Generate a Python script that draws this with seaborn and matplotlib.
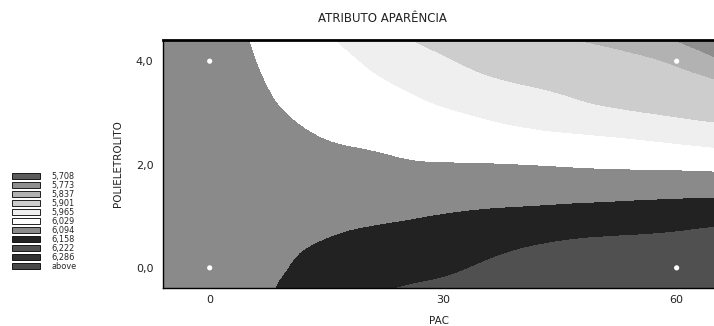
import numpy as np
import pandas as pd
import matplotlib
matplotlib.use("Agg")
import matplotlib.pyplot as plt
import matplotlib.tri as mtri
from matplotlib.patches import Patch
import seaborn as sns

# response surface (rows follow POLIELETROLITO, columns follow PAC)
pac = [-6, 0, 5, 10, 15, 20, 25, 30, 40, 50, 60, 65]
polieletrolito = [-0.4, 0.0, 0.5, 1.0, 1.5, 2.0, 2.5, 3.0, 3.5, 4.0, 4.4]
aparencia = [
    [6.083, 6.083, 6.085, 6.102, 6.135, 6.148, 6.160, 6.165, 6.185, 6.195, 6.200, 6.210],
    [6.081, 6.080, 6.079, 6.093, 6.117, 6.130, 6.141, 6.150, 6.175, 6.185, 6.192, 6.200],
    [6.079, 6.076, 6.073, 6.083, 6.096, 6.107, 6.115, 6.123, 6.149, 6.165, 6.172, 6.180],
    [6.076, 6.072, 6.067, 6.072, 6.079, 6.084, 6.089, 6.096, 6.109, 6.119, 6.130, 6.136],
    [6.074, 6.068, 6.061, 6.061, 6.062, 6.063, 6.062, 6.063, 6.068, 6.071, 6.074, 6.075],
    [6.071, 6.064, 6.055, 6.050, 6.044, 6.041, 6.034, 6.031, 6.028, 6.020, 6.014, 6.009],
    [6.069, 6.060, 6.049, 6.039, 6.028, 6.020, 6.010, 6.001, 5.983, 5.970, 5.950, 5.938],
    [6.066, 6.056, 6.043, 6.028, 6.013, 6.000, 5.986, 5.971, 5.943, 5.913, 5.892, 5.883],
    [6.063, 6.052, 6.038, 6.018, 5.998, 5.980, 5.961, 5.939, 5.904, 5.880, 5.862, 5.850],
    [6.060, 6.048, 6.033, 6.008, 5.984, 5.960, 5.931, 5.907, 5.866, 5.854, 5.825, 5.782],
    [6.058, 6.045, 6.029, 6.001, 5.972, 5.940, 5.906, 5.882, 5.845, 5.832, 5.768, 5.715],
]

# contour levels and legend
levels = [5.5, 5.708, 5.773, 5.837, 5.901, 5.965, 6.029, 6.094, 6.158, 6.222, 6.286, 6.5]
legend_labels = ["5,708", "5,773", "5,837", "5,901", "5,965", "6,029",
                 "6,094", "6,158", "6,222", "6,286", "above"]

# experimental design points (white dots)
design_pac = [0, 0, 60, 60]
design_pol = [0, 4, 0, 4]

x_ticks = [0, 30, 60]
x_ticklabels = ["0", "30", "60"]
y_ticks = [0, 2, 4]
y_ticklabels = ["0,0", "2,0", "4,0"]
x_grid = [6, 18, 30, 42, 54]
y_grid = [0.4, 1.2, 2.0, 2.8, 3.6]

band_colors = ["#5a5a5a", "#8e8e8e", "#b2b2b2", "#cdcdcd", "#efefef", "#ffffff",
               "#8a8a8a", "#222222", "#505050", "#303030", "#484848"]

sns.set_style("white")
plt.rcParams["font.family"] = ["DejaVu Sans"]

fig = plt.figure(figsize=(7.14, 3.26), dpi=100)
ax = fig.add_axes([163 / 714, 38 / 326, 551 / 714, 248 / 326])

# smooth the read grid with matplotlib's cubic refiner before contouring
gx, gy = np.meshgrid(pac, polieletrolito)
triang = mtri.Triangulation(gx.ravel(), gy.ravel())
refiner = mtri.UniformTriRefiner(triang)
tri_fine, z_fine = refiner.refine_field(np.ravel(aparencia), subdiv=3)
ax.tricontourf(tri_fine, z_fine, levels=levels, colors=band_colors)

sns.scatterplot(x=design_pac, y=design_pol, color="white", s=14,
                edgecolor="none", ax=ax, zorder=3)

ax.set_xlim(-6, 64.8)
ax.set_ylim(-0.39, 4.41)
ax.set_xticks(x_ticks)
ax.set_xticklabels(x_ticklabels)
ax.set_yticks(y_ticks)
ax.set_yticklabels(y_ticklabels)
ax.set_xticks(x_grid, minor=True)
ax.set_yticks(y_grid, minor=True)
ax.grid(which="minor", color="white", linestyle=(0, (2, 2)), linewidth=0.8)
ax.grid(which="major", visible=False)
ax.tick_params(which="both", length=0, labelsize=8, colors="#222222")
ax.tick_params(axis="y", pad=7)
ax.tick_params(axis="x", pad=5)

for side in ["left", "bottom"]:
    ax.spines[side].set_color("black")
    ax.spines[side].set_linewidth(1.0)
ax.spines["top"].set_color("black")
ax.spines["top"].set_linewidth(2.0)
ax.spines["right"].set_visible(False)

ax.set_xlabel("PAC", fontsize=7.5, labelpad=8, color="#222222")
ax.set_ylabel("POLIELETROLITO", fontsize=7.5, labelpad=9, color="#222222")
fig.text(382 / 714, 1 - 18 / 326, "ATRIBUTO APARÊNCIA", ha="center", va="center",
         fontsize=8.5, color="#222222")

handles = [Patch(facecolor=c, edgecolor="black", linewidth=0.6) for c in band_colors]
fig.legend(handles, legend_labels, loc="upper left",
           bbox_to_anchor=(12 / 714, 1 - 172 / 326), frameon=False,
           fontsize=5.9, handlelength=3.4, handleheight=0.85,
           handletextpad=1.4, labelspacing=0.0, borderpad=0, borderaxespad=0)

fig.savefig("out.png", dpi=100)
